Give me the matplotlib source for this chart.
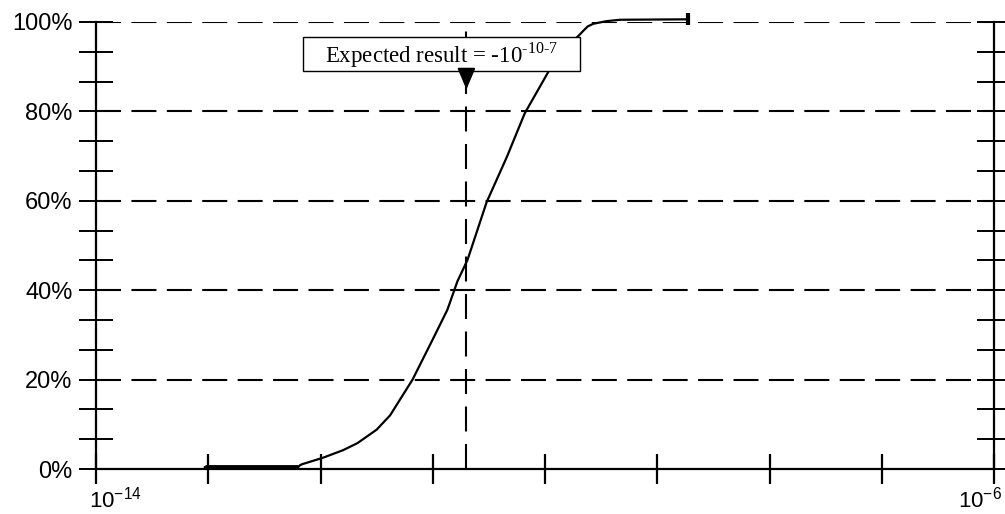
"""Cumulative distribution with expected-result marker."""

import matplotlib

matplotlib.use("Agg")
import matplotlib.pyplot as plt
import matplotlib.transforms as mtransforms
from matplotlib.patches import Rectangle
from matplotlib.ticker import FixedLocator, FixedFormatter
import numpy as np

# curve: log10(x) and cumulative fraction
LOG_X = [-13.03, -12.20, -12.18, -12.16, -11.98, -11.80, -11.67, -11.50,
         -11.38, -11.18, -11.00, -10.87, -10.78, -10.69, -10.52, -10.34,
         -10.18, -9.96, -9.84, -9.76, -9.69, -9.66, -9.62, -9.57, -9.45,
         -9.33, -8.73]
CUM = [0.004, 0.004, 0.009, 0.011, 0.025, 0.042, 0.058, 0.088,
       0.12, 0.20, 0.29, 0.356, 0.42, 0.468, 0.597, 0.698,
       0.796, 0.893, 0.930, 0.955, 0.972, 0.980, 0.990, 0.996, 1.002,
       1.005, 1.006]

EXPECTED_LOG = -10.7
EXPECTED_LABEL = r"Expected result = -10$^{\text{-10-7}}$"

X_TICK_EXP = [-14, -13, -12, -11, -10, -9, -8, -7, -6]
X_TICK_LABELS = [r"$\mathsf{10^{-14}}$", "", "", "", "", "", "", "",
                 r"$\mathsf{10^{-6}}$"]
Y_MAJOR = [0.0, 0.2, 0.4, 0.6, 0.8, 1.0]
Y_LABELS = ["0%", "20%", "40%", "60%", "80%", "100%"]

plt.rcParams["font.family"] = ["Liberation Sans", "DejaVu Sans"]
plt.rcParams["mathtext.fontset"] = "custom"
plt.rcParams["mathtext.rm"] = "Liberation Serif"
plt.rcParams["mathtext.sf"] = "Liberation Sans"

fig = plt.figure(figsize=(10.05, 5.14), dpi=100)
ax = fig.add_axes([96 / 1005, 1 - 469 / 514, (994 - 96) / 1005, (469 - 22) / 514])

x = np.power(10.0, LOG_X)
ax.plot(x, CUM, color="black", lw=1.6, clip_on=False, zorder=4)
ax.plot(x[:2], CUM[:2], color="black", lw=3.5, solid_capstyle="butt", zorder=4)
ax.plot([x[-1]], [CUM[-1]], marker="|", ms=8, mew=3, color="black", clip_on=False)

ax.set_xscale("log")
ax.set_xlim(1e-14, 1e-6)
ax.set_ylim(0, 1)

ax.xaxis.set_major_locator(FixedLocator([10.0 ** e for e in X_TICK_EXP]))
ax.xaxis.set_major_formatter(FixedFormatter(X_TICK_LABELS))
ax.xaxis.set_minor_locator(FixedLocator([]))
ax.yaxis.set_major_locator(FixedLocator(Y_MAJOR))
ax.yaxis.set_major_formatter(FixedFormatter(Y_LABELS))
ax.yaxis.set_minor_locator(FixedLocator([i / 15 for i in range(16)]))

ax.tick_params(axis="x", which="major", direction="inout", length=22, width=1.6,
               labelsize=16, pad=2)
ax.tick_params(axis="y", which="both", direction="inout", length=24, width=1.4,
               labelsize=17, pad=5, right=True)

# end labels sit beside their ticks, not centred on them
xlabels = ax.get_xticklabels()
xlabels[0].set_ha("left")
xlabels[0].set_transform(xlabels[0].get_transform()
                         + mtransforms.ScaledTranslation(-7 / 100, 0, fig.dpi_scale_trans))
xlabels[-1].set_ha("right")
xlabels[-1].set_transform(xlabels[-1].get_transform()
                          + mtransforms.ScaledTranslation(8 / 100, 0, fig.dpi_scale_trans))

for side in ("left", "bottom", "right"):
    ax.spines[side].set_linewidth(1.6)
ax.spines["top"].set_visible(False)

for yv in Y_MAJOR[1:]:
    ax.axhline(yv, color="black", lw=1.5, ls=(0, (12, 5)), zorder=1)

xe = 10.0 ** EXPECTED_LOG
ax.axvline(xe, ymin=0, ymax=1, color="black", lw=1.5, ls=(0, (12, 6)), zorder=1)

# label box
bx0, bx1 = 10.0 ** -12.156, 10.0 ** -9.688
ax.add_patch(Rectangle((bx0, 0.890), bx1 - bx0, 0.076, fc="white", ec="black",
                       lw=1, zorder=5, clip_on=False))
ax.text(10.0 ** -10.92, 0.926, EXPECTED_LABEL, ha="center", va="center",
        fontsize=16.5, family="Liberation Serif", zorder=6)
ax.annotate("", xy=(xe, 0.849), xytext=(xe, 0.890),
            arrowprops=dict(arrowstyle="-|>,head_length=1.3,head_width=0.55",
                            mutation_scale=10, color="black", lw=1.5,
                            shrinkA=0, shrinkB=0),
            zorder=6)

fig.savefig("out.png", dpi=100)
